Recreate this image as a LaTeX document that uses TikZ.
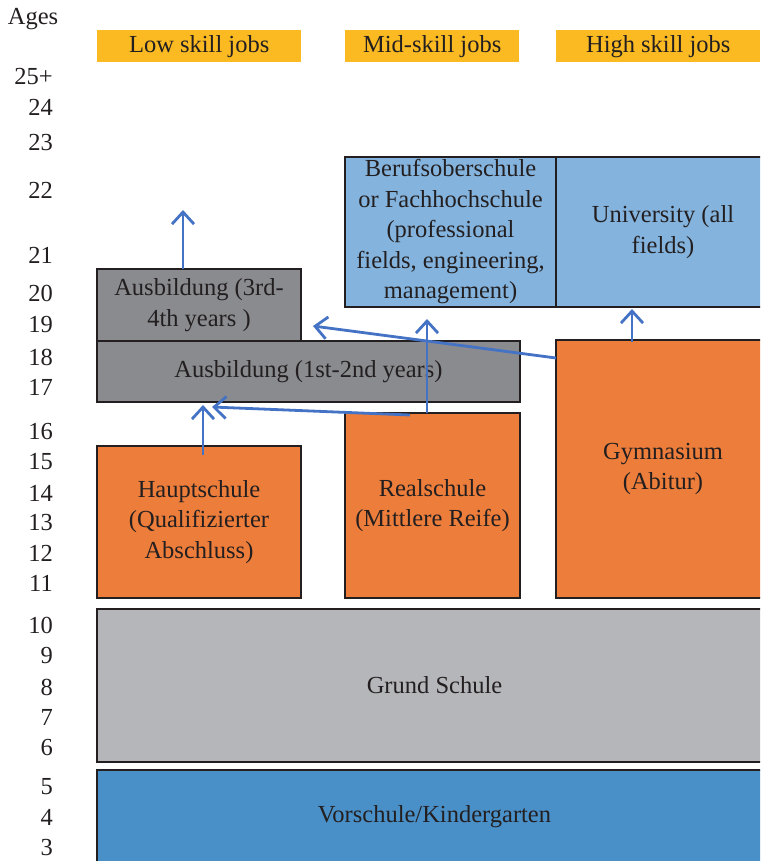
\documentclass[tikz,border=0pt]{standalone}
\usepackage{fontspec}
\setmainfont{Liberation Serif}
\usetikzlibrary{arrows.meta}
\definecolor{jobyellow}{RGB}{251,186,34}
\definecolor{schorange}{RGB}{237,125,58}
\definecolor{ausgray}{RGB}{138,139,143}
\definecolor{grundgray}{RGB}{181,182,186}
\definecolor{unilblue}{RGB}{132,180,222}
\definecolor{vorblue}{RGB}{74,144,200}
\definecolor{arrowblue}{RGB}{68,114,196}
\definecolor{edgecol}{RGB}{35,31,32}
\newcommand{\txtfont}{\fontsize{24.5}{30.5}\selectfont}
\begin{document}
\begin{tikzpicture}[x=1pt,y=-1pt,
  box/.style={draw=edgecol, line width=2pt, inner sep=0pt, outer sep=0pt,
    align=center, font=\txtfont, text=edgecol, anchor=north west},
  jobbox/.style={fill=jobyellow, inner sep=0pt, align=center, font=\txtfont,
    text=edgecol, anchor=north west, minimum height=32pt},
  agelbl/.style={font=\txtfont, text=edgecol, inner sep=0pt, anchor=east},
  arr/.style={draw=arrowblue, line width=2.8pt,
    -{Straight Barb[length=12pt,width=22pt,line width=2.8pt]}}]
\useasboundingbox (0,0) rectangle (760,861);
\clip (0,0) rectangle (760,861);

% ages
\node[font=\txtfont, text=edgecol, inner sep=0pt] (ages) at (33,19) {Ages};
\node[agelbl] (a25) at (53,77) {25+};
\node[agelbl] (a24) at (53,107) {24};
\node[agelbl] (a23) at (53,143) {23};
\node[agelbl] (a22) at (53,190) {22};
\node[agelbl] (a21) at (53,255) {21};
\node[agelbl] (a20) at (53,293) {20};
\node[agelbl] (a19) at (53,325) {19};
\node[agelbl] (a18) at (53,357) {18};
\node[agelbl] (a17) at (53,387) {17};
\node[agelbl] (a16) at (53,432) {16};
\node[agelbl] (a15) at (53,462) {15};
\node[agelbl] (a14) at (53,493) {14};
\node[agelbl] (a13) at (53,523) {13};
\node[agelbl] (a12) at (53,553) {12};
\node[agelbl] (a11) at (53,583) {11};
\node[agelbl] (a10) at (53,625) {10};
\node[agelbl] (a9) at (53,656) {9};
\node[agelbl] (a8) at (53,687) {8};
\node[agelbl] (a7) at (53,717) {7};
\node[agelbl] (a6) at (53,747) {6};
\node[agelbl] (a5) at (53,787) {5};
\node[agelbl] (a4) at (53,817) {4};
\node[agelbl] (a3) at (53,847) {3};

% job labels
\node[jobbox, minimum width=204pt] (low) at (97,30) {Low skill jobs};
\node[jobbox, minimum width=174pt] (mid) at (345,30) {Mid-skill jobs};
\node[jobbox, minimum width=204pt] (high) at (556,30) {High skill jobs};

% upper boxes
\node[box, fill=unilblue, minimum width=211pt, minimum height=150pt] (beruf) at (345,157)
  {Berufsoberschule\\or Fachhochschule\\(professional\\fields, engineering,\\management)};
\node[box, fill=unilblue, minimum width=214pt, minimum height=150pt] (uni) at (556,157)
  {University (all\\fields)};
\node[box, fill=ausgray, minimum width=204pt, minimum height=72pt] (aus34) at (97,269)
  {Ausbildung (3rd-\\4th years )};
\node[box, fill=ausgray, minimum width=423pt, minimum height=61pt] (aus12) at (97,341)
  {Ausbildung (1st-2nd years)};
\node[box, fill=schorange, minimum width=204pt, minimum height=152pt] (haupt) at (97,446)
  {Hauptschule\\(Qualifizierter\\Abschluss)};
\node[box, fill=schorange, minimum width=175pt, minimum height=185pt] (real) at (345,413)
  {Realschule\\(Mittlere Reife)};
\node[box, fill=schorange, minimum width=214pt, minimum height=258pt] (gym) at (556,340)
  {Gymnasium\\(Abitur)};
\node[box, fill=grundgray, minimum width=675pt, minimum height=153pt] (grund) at (97,609)
  {Grund Schule};
\node[box, fill=vorblue, minimum width=675pt, minimum height=94pt] (vor) at (97,770)
  {Vorschule/Kindergarten};

% arrow ends
\coordinate (t1) at (183,210);
\coordinate (t2) at (203,405);
\coordinate (t3) at (212,407);
\coordinate (s3) at (410,415);
\coordinate (t4) at (427,319);
\coordinate (t5) at (313,326);
\coordinate (t6) at (632,309);

\draw[arr] (aus34.north -| t1) -- (t1);
\draw[arr] ([yshift=-9pt]haupt.north -| t2) -- (t2);
\draw[arr] (s3) -- (t3);
\draw[arr] (real.north -| t4) -- (t4);
\draw[arr] ([yshift=-18pt]gym.north west) -- (t5);
\draw[arr] ([yshift=-2pt]gym.north -| t6) -- (t6);
\end{tikzpicture}
\end{document}
